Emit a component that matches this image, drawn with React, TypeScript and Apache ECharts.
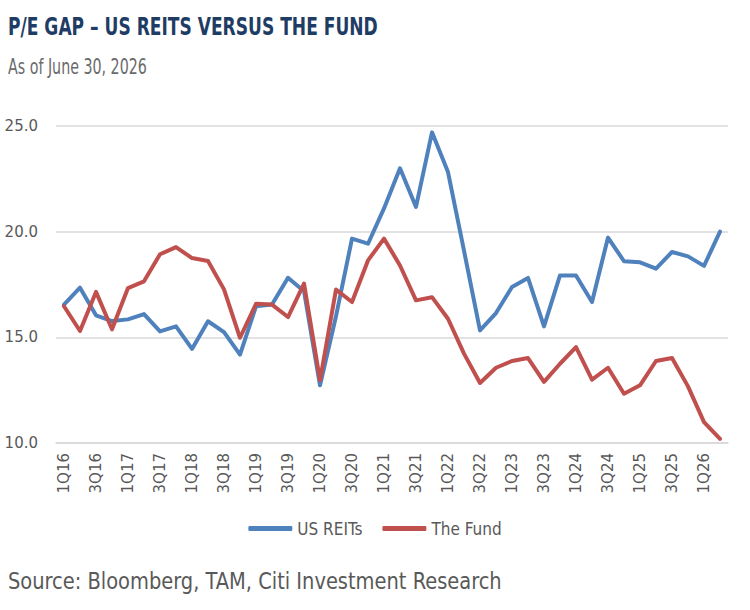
import React, { useEffect, useRef } from "react";
import * as echarts from "echarts";

// Quarter labels, 1Q16 through 2Q26
const quarters: string[] = [];
for (let y = 16; y <= 26; y++) {
  for (let q = 1; q <= 4; q++) {
    if (y === 26 && q > 2) break;
    quarters.push(`${q}Q${y}`);
  }
}

// Forward P/E, US REITs
const usReits = [
  16.55, 17.35, 16.04, 15.77, 15.85, 16.1, 15.28, 15.52, 14.45, 15.76,
  15.25, 14.18, 16.47, 16.55, 17.82, 17.18, 12.73, 16.0, 19.67, 19.43,
  21.1, 23.0, 21.17, 24.7, 22.82, 19.1, 15.33, 16.15, 17.38, 17.81,
  15.52, 17.93, 17.93, 16.67, 19.72, 18.6, 18.55, 18.25, 19.04, 18.83,
  18.38, 20.0,
];

// Forward P/E, The Fund
const theFund = [
  16.47, 15.3, 17.15, 15.38, 17.33, 17.65, 18.93, 19.27, 18.75, 18.61,
  17.27, 14.98, 16.59, 16.55, 15.96, 17.54, 12.97, 17.26, 16.67, 18.64,
  19.67, 18.4, 16.75, 16.9, 15.88, 14.23, 12.84, 13.56, 13.88, 14.02,
  12.89, 13.75, 14.54, 13.0, 13.56, 12.33, 12.73, 13.88, 14.02, 12.68,
  10.99, 10.2,
];

const condensed = '"DejaVu Sans Condensed", "DejaVu Sans", sans-serif';
const labelFont = '"DejaVu Sans", sans-serif';

export default function App() {
  const ref = useRef<HTMLDivElement>(null);

  useEffect(() => {
    if (!ref.current) return;
    const chart = echarts.init(ref.current, undefined, { renderer: "svg" });
    chart.setOption({
      animation: false,
      backgroundColor: "#ffffff",
      graphic: [
        {
          type: "text",
          x: 8,
          y: 13,
          scaleX: 0.76,
          style: {
            text: "P/E GAP – US REITS VERSUS THE FUND",
            fill: "#1f3d64",
            font: `bold 25px ${condensed}`,
            verticalAlign: "top",
          },
        },
        {
          type: "text",
          x: 8,
          y: 56,
          scaleX: 0.72,
          style: {
            text: "As of June 30, 2026",
            fill: "#6b6b6b",
            font: `22px ${condensed}`,
            verticalAlign: "top",
          },
        },
        {
          type: "text",
          x: 8,
          y: 569,
          scaleX: 0.94,
          style: {
            text: "Source: Bloomberg, TAM, Citi Investment Research",
            fill: "#595959",
            font: `23px ${condensed}`,
            verticalAlign: "top",
          },
        },
      ],
      grid: { left: 56, right: 22, top: 126, bottom: 167 },
      legend: {
        bottom: 68,
        left: "center",
        icon: "roundRect",
        itemWidth: 44,
        itemHeight: 5,
        itemGap: 20,
        textStyle: { color: "#595959", fontSize: 17, fontFamily: condensed },
        data: ["US REITs", "The Fund"],
      },
      xAxis: {
        type: "category",
        data: quarters,
        boundaryGap: true,
        axisLine: { lineStyle: { color: "#d9d9d9", width: 1.5 } },
        axisTick: { show: false },
        axisLabel: {
          interval: 1,
          rotate: 90,
          color: "#595959",
          fontSize: 15,
          fontFamily: labelFont,
          margin: 10,
        },
      },
      yAxis: {
        type: "value",
        min: 10,
        max: 25,
        interval: 5,
        axisLine: { show: false },
        axisTick: { show: false },
        splitLine: { lineStyle: { color: "#d9d9d9", width: 1.5 } },
        axisLabel: {
          formatter: (v: number) => v.toFixed(1),
          color: "#595959",
          fontSize: 15,
          fontFamily: labelFont,
          margin: 18,
        },
      },
      series: [
        {
          name: "US REITs",
          type: "line",
          data: usReits,
          showSymbol: false,
          symbol: "none",
          itemStyle: { color: "#4f81bd" },
          lineStyle: { color: "#4f81bd", width: 4, cap: "round", join: "round" },
        },
        {
          name: "The Fund",
          type: "line",
          data: theFund,
          showSymbol: false,
          symbol: "none",
          itemStyle: { color: "#c0504d" },
          lineStyle: { color: "#c0504d", width: 4, cap: "round", join: "round" },
        },
      ],
    });
    return () => chart.dispose();
  }, []);

  return <div ref={ref} style={{ width: 750, height: 610, position: "absolute", left: 0, top: 0 }} />;
}
